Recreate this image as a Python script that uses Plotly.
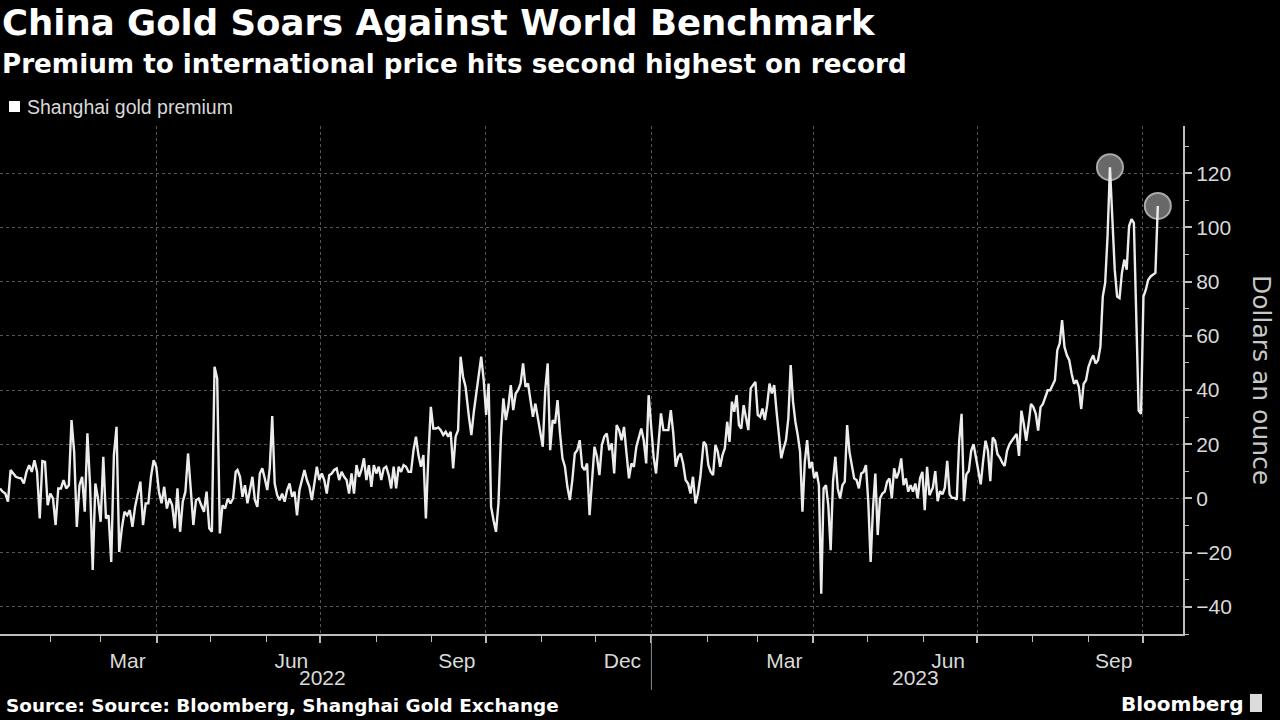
import pandas as pd
import plotly.graph_objects as go

TITLE = "China Gold Soars Against World Benchmark"
SUBTITLE = "Premium to international price hits second highest on record"
SERIES_NAME = "Shanghai gold premium"
SOURCE = "Source: Source: Bloomberg, Shanghai Gold Exchange"
Y_TITLE = "Dollars an ounce"
BRAND = "Bloomberg"

# Shanghai gold premium (USD/oz), in consecutive date segments
SEG_A_DATES = ("2022-01-04", "2022-05-15")
SEG_A = [3.7, 2.5, 1.8, -1.2, 10.5, 9.2, 8.0, 7.6, 7.4, 5.5, 9.8, 12.3, 9.8, 14.1, 9.8, -7.4,
         13.8, 13.5, -2.5, 1.8, 0.0, -9.8, 3.7, 3.7, 6.8, 3.7, 4.9, 28.9, 17.2, -10.5, 4.9, 8.0,
         -4.9, 24.0, 4.9, -26.4, 5.5, 0.0, -8.6, 15.4, -7.4, -6.2, -23.4, 16.0, 26.4, -19.7,
         -11.0, -4.9, -6.2, -4.3, -10.5, -3.1, 1.2, 6.2, -9.8, -1.8, -1.8, 8.0, 14.1, 11.7, 2.5,
         -1.8, 4.3, -3.7, 0.0, -2.5, -11.0, 3.7, -12.3, -1.2, 2.5, 16.6, 3.7, -9.8, -0.6, 0.0,
         -2.5, -4.9, 2.5, -11.0, -12.3, 48.6, 44.3, -12.9, -2.5, -3.7, 0.0, -1.8, 0.0, 9.8]

SEG_B_DATES = ("2022-05-16", "2022-09-19 17:00")
SEG_B = [10.5, 8.0, 0.6, 4.9, -1.8, 3.1, 8.0, -0.6, -3.1, 9.2, 11.1, 7.4, 3.1, 11.1, 30.4, 5.5,
         1.2, -0.6, 1.8, -1.2, 3.1, 5.5, 0.6, 2.5, -6.2, 3.1, 6.8, 10.5, 6.8, 4.3, -0.6, 5.5,
         11.7, 6.8, 9.2, 6.8, 1.8, 8.6, 9.2, 10.5, 11.1, 6.8, 9.8, 8.0, 6.8, 1.8, 9.2, 1.8, 12.3,
         8.0, 10.5, 14.8, 6.8, 12.3, 4.3, 12.3, 9.2, 11.7, 6.8, 11.1, 11.7, 8.6, 3.7, 11.7, 3.7,
         11.7, 9.8, 12.3, 11.7, 9.8, 9.8, 17.8, 22.8, 16.0, 11.7, 16.0, -7.4, 15.4, 33.8, 25.8,
         25.8, 26.2, 25.2, 23.4, 24.6, 22.8, 24.6, 11.1, 22.8, 25.2, 52.3, 44.9, 41.2]

SEG_C_DATES = ("2022-09-21 14:00", "2023-01-28 05:00")
SEG_C = [30.1, 23.4, 32.0, 38.7, 46.1, 52.3, 43.7, 30.8, 42.4, -3.1, -8.0, -12.3, -1.8, 22.8,
         36.9, 28.9, 33.8, 41.8, 32.6, 38.7, 40.0, 42.4, 49.8, 41.2, 42.4, 36.9, 30.1, 35.0,
         29.5, 25.2, 19.1, 40.0, 49.8, 17.8, 28.9, 27.7, 36.3, 24.0, 14.8, 11.7, 4.3, -0.6, 6.8,
         16.6, 17.8, 21.5, 11.7, 10.5, 12.9, -6.2, 6.8, 19.1, 15.4, 8.6, 19.7, 22.8, 24.0, 17.8,
         20.3, 9.2, 27.1, 25.2, 21.5, 26.4, 16.6, 7.4, 12.9, 11.7, 19.1, 22.8, 25.8, 21.5, 12.9,
         38.1, 26.4, 15.4, 9.2, 19.1, 31.4, 25.2, 25.2, 25.2, 32.6, 24.0, 11.7, 15.4, 16.6, 12.9,
         6.8, 5.5, 1.8, 8.0, -1.8, 1.8, 8.0]

SEG_D_DATES = ("2023-01-30 01:00", "2023-06-04 12:00")
SEG_D = [20.9, 19.7, 12.3, 9.8, 8.6, 19.7, 17.2, 11.7, 16.0, 18.5, 28.3, 20.9, 35.7, 32.0, 38.1,
         27.1, 25.8, 34.4, 29.5, 25.2, 40.6, 41.8, 43.0, 30.8, 30.1, 33.2, 28.9, 34.4, 42.4, 38.7,
         41.8, 32.0, 23.4, 14.8, 18.5, 21.5, 29.5, 49.2, 35.7, 28.3, 23.4, 17.2, -4.9, 13.5, 21.5,
         11.1, 13.5, 7.4, 9.8, 4.9, -35.1, 3.7, 4.9, -2.5, -19.1, 6.2, 15.4, 3.7, 0.0, 4.9, 6.2,
         27.1, 17.2, 12.3, 7.4, 6.8, 3.7, 9.2, 9.8, 12.3, -1.2, -23.4, -3.7, 9.2, -13.5, 0.0, 1.8,
         2.5, 6.2, 7.4, 0.0, 11.1, 7.4, 9.8, 14.8, 4.9, 7.4, 2.5, 4.9, 2.5, 5.5, 0.0, 7.4, 9.8,
         -4.3, 11.7, 1.2]

SEG_E_DATES = ("2023-06-06 10:00", "2023-10-09 10:00")
SEG_E = [4.0, 10.1, -1.0, 2.7, 1.5, 4.0, 13.9, 1.5, 0.2, 0.2, -0.4, 21.3, 31.2, -1.0, 8.9, 10.1,
         17.6, 20.0, 15.1, 10.1, 5.2, 13.9, 21.3, 17.6, 6.4, 22.5, 21.3, 16.3, 15.1, 13.2, 12.0,
         17.6, 20.0, 21.3, 22.5, 23.8, 15.7, 32.4, 27.5, 21.3, 27.5, 34.9, 33.7, 31.2, 25.0, 33.7,
         34.9, 37.4, 39.9, 39.9, 41.5, 43.6, 54.7, 57.2, 65.8, 55.9, 52.8, 51.0, 46.0, 42.3, 43.6,
         41.1, 33.0, 42.3, 43.6, 48.5, 51.0, 52.8, 49.8, 51.0, 55.9, 74.5, 79.5, 96.8, 122.2,
         104.2, 84.4, 74.5, 73.9, 83.2, 88.1, 84.4, 100.5, 103.0, 101.7, 67.1, 32.4, 31.2, 74.5,
         77.0, 80.7, 81.9, 82.5, 83.2, 107.9]

X_TICK_DATES = ["2022-04-01", "2022-07-01", "2022-10-01", "2023-01-01",
                "2023-04-01", "2023-07-01", "2023-10-01"]
X_TICK_TEXT = ["Mar", "Jun", "Sep", "Dec", "Mar", "Jun", "Sep"]
YEAR_LABELS = ["2022", "2023"]
YEAR_LABEL_DATES = ["2022-07-02", "2023-05-28"]
YEAR_BREAK = "2023-01-01"
X_RANGE = ["2022-01-04", "2023-10-23 10:00"]
Y_RANGE = [-50, 137.4]

segments = [(SEG_A_DATES, SEG_A), (SEG_B_DATES, SEG_B), (SEG_C_DATES, SEG_C),
            (SEG_D_DATES, SEG_D), (SEG_E_DATES, SEG_E)]
dates, values = [], []
for (d0, d1), vals in segments:
    dates.extend(pd.date_range(d0, d1, periods=len(vals)))
    values.extend(vals)
s = pd.Series(values, index=pd.DatetimeIndex(dates))

peak_idx = s.idxmax()
hl_x = [peak_idx, s.index[-1]]
hl_y = [s.loc[peak_idx], s.iloc[-1]]

TXT = "#d9d9d9"
AX = "#bdbdbd"
GRID = "#555555"
FONT = "Liberation Sans"
WIDE = "DejaVu Sans"

fig = go.Figure()
fig.add_trace(go.Scatter(
    x=hl_x, y=hl_y, mode="markers", showlegend=False, hoverinfo="skip",
    marker=dict(size=26, color="rgba(110,110,110,0.95)", line=dict(color="#a9a9a9", width=2)),
))
fig.add_trace(go.Scatter(
    x=s.index, y=s.values, mode="lines", name=SERIES_NAME, showlegend=False,
    line=dict(color="#ececec", width=2.4),
))

fig.update_layout(
    width=1280, height=720,
    paper_bgcolor="black", plot_bgcolor="black",
    margin=dict(l=0, r=97, t=126, b=86),
    font=dict(family=FONT, color=TXT, size=20),
    xaxis=dict(
        range=X_RANGE, type="date",
        tickmode="array", tickvals=X_TICK_DATES, ticktext=X_TICK_TEXT,
        ticks="outside", ticklen=7, tickwidth=2, tickcolor=AX, ticklabelshift=-29,
        tickfont=dict(size=21, color=TXT),
        showline=True, linecolor=AX, linewidth=2,
        showgrid=True, gridcolor=GRID, griddash="dot", gridwidth=1,
        zeroline=False,
        minor=dict(tickmode="linear", tick0="2022-01-01", dtick="M1", ticks="outside",
                   ticklen=6, tickwidth=1, tickcolor=AX, showgrid=False),
    ),
    yaxis=dict(
        range=Y_RANGE, side="right", tickmode="linear", tick0=0, dtick=20,
        ticks="outside", ticklen=7, tickwidth=2, tickcolor=AX,
        tickfont=dict(size=21, color=TXT),
        showline=True, linecolor=AX, linewidth=2,
        showgrid=True, gridcolor=GRID, griddash="dot", gridwidth=1,
        zeroline=False,
        minor=dict(tickmode="linear", tick0=0, dtick=10, ticks="outside",
                   ticklen=4, tickwidth=1, tickcolor=AX, showgrid=False),
    ),
)

annotations = [
    dict(text=f"<b>{TITLE}</b>", x=0.0, y=1.2028, xanchor="left", yanchor="middle",
         font=dict(size=35.5, color="white", family=WIDE)),
    dict(text=f"<b>{SUBTITLE}</b>", x=0.0, y=1.122, xanchor="left", yanchor="middle",
         font=dict(size=26.2, color="white", family=WIDE)),
    dict(text=SERIES_NAME, x=0.0211, y=1.0374, xanchor="left", yanchor="middle",
         font=dict(size=19.5, color=TXT, family=FONT)),
    dict(text=Y_TITLE, x=1.0668, y=0.5, xanchor="center", yanchor="middle", textangle=90,
         font=dict(size=25, color="#c8c8c8", family=WIDE)),
    dict(text=f"<b>{SOURCE}</b>", x=0.003, y=-0.1417, xanchor="left", yanchor="middle",
         font=dict(size=18.4, color="white", family=WIDE)),
    dict(text=f"<b>{BRAND}</b>", x=1.0524, y=-0.138, xanchor="right", yanchor="middle",
         font=dict(size=20, color="white", family=WIDE)),
]
for lab, d in zip(YEAR_LABELS, YEAR_LABEL_DATES):
    annotations.append(dict(text=lab, x=d, xref="x", y=-0.0866, yref="paper",
                            xanchor="center", yanchor="middle",
                            font=dict(size=21, color=TXT, family=FONT)))
for a in annotations:
    a.setdefault("xref", "paper")
    a.setdefault("yref", "paper")
    a["showarrow"] = False
fig.update_layout(annotations=annotations)

fig.update_layout(shapes=[
    dict(type="rect", xref="paper", yref="paper", x0=0.0076, x1=0.0169, y0=1.0276, y1=1.0492,
         fillcolor="white", line=dict(width=0)),
    dict(type="line", xref="x", yref="paper", x0=YEAR_BREAK, x1=YEAR_BREAK, y0=-0.006, y1=-0.11,
         line=dict(color="#8a8a8a", width=1)),
    dict(type="rect", xref="paper", yref="paper", x0=1.0566, x1=1.0668, y0=-0.1535, y1=-0.118,
         fillcolor="#dcdcdc", line=dict(width=0)),
])

fig.write_html(
    "out.html",
    config={"displayModeBar": False},
    post_script="document.body.style.margin='0';document.body.style.overflow='hidden';",
)
